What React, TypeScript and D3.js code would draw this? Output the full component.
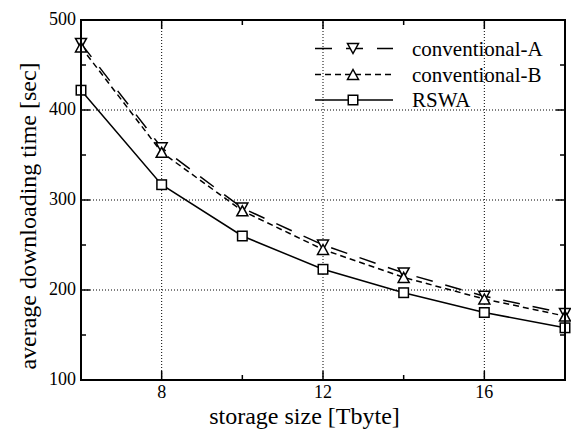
import React from "react";
import * as d3 from "d3";

// storage size [Tbyte]
const storageSizes = [6, 8, 10, 12, 14, 16, 18];
// average downloading time [sec]
const conventionalA = [474, 358, 291, 250, 219, 193, 174];
const conventionalB = [470, 353, 288, 245, 214, 190, 171];
const rswa = [422, 317, 260, 223, 197, 175, 158];

const xMajorTicks = [8, 12, 16];
const xMinorTicks = [10, 14];
const yMajorTicks = [100, 200, 300, 400, 500];
const yMinorTicks = [150, 250, 350, 450];
const yGridTicks = [200, 300, 400];

const width = 571;
const height = 429;
const margin = { left: 81, right: 6, top: 20, bottom: 49 };
const font = "Liberation Serif, DejaVu Serif, serif";

const x = d3.scaleLinear().domain([6, 18]).range([margin.left, width - margin.right]);
const y = d3.scaleLinear().domain([100, 500]).range([height - margin.bottom, margin.top]);

const line = d3
  .line<number>()
  .x((d, i) => x(storageSizes[i]))
  .y(d => y(d));

const triDown = (cx, cy) => `M${cx - 5.5},${cy - 5}L${cx + 5.5},${cy - 5}L${cx},${cy + 5}Z`;
const triUp = (cx, cy) => `M${cx - 5.5},${cy + 5}L${cx + 5.5},${cy + 5}L${cx},${cy - 5}Z`;

const series = [
  { name: "conventional-A", values: conventionalA, dash: "17,13", marker: "down" },
  { name: "conventional-B", values: conventionalB, dash: "6,4", marker: "up" },
  { name: "RSWA", values: rswa, dash: null, marker: "square" }
];

const Marker = ({ kind, cx, cy }) => {
  if (kind === "square")
    return <rect x={cx - 4.75} y={cy - 4.75} width={9.5} height={9.5} fill="white" stroke="black" strokeWidth={1.5} />;
  return <path d={kind === "down" ? triDown(cx, cy) : triUp(cx, cy)} fill="white" stroke="black" strokeWidth={1.5} />;
};

const App = () => {
  const [x0, x1] = x.range();
  const [y0, y1] = y.range();
  const legendRows = [48.5, 74.5, 100];

  return (
    <svg width={width} height={height} style={{ position: "absolute", left: 0, top: 0, background: "white", fontFamily: font }}>
      {/* grid */}
      <g stroke="black" strokeWidth={1} strokeDasharray="1,2">
        {xMajorTicks.map(t => <line key={"gx" + t} x1={x(t)} x2={x(t)} y1={y0} y2={y1} />)}
        {yGridTicks.map(t => <line key={"gy" + t} x1={x0} x2={x1} y1={y(t)} y2={y(t)} />)}
      </g>

      {/* ticks on all four sides */}
      <g stroke="black" strokeWidth={1.5}>
        {xMajorTicks.map(t => (
          <g key={"xt" + t}>
            <line x1={x(t)} x2={x(t)} y1={y0} y2={y0 - 9} />
            <line x1={x(t)} x2={x(t)} y1={y1} y2={y1 + 9} />
          </g>
        ))}
        {xMinorTicks.map(t => (
          <g key={"xm" + t}>
            <line x1={x(t)} x2={x(t)} y1={y0} y2={y0 - 5} />
            <line x1={x(t)} x2={x(t)} y1={y1} y2={y1 + 5} />
          </g>
        ))}
        {yMajorTicks.map(t => (
          <g key={"yt" + t}>
            <line x1={x0} x2={x0 + 9} y1={y(t)} y2={y(t)} />
            <line x1={x1} x2={x1 - 9} y1={y(t)} y2={y(t)} />
          </g>
        ))}
        {yMinorTicks.map(t => (
          <g key={"ym" + t}>
            <line x1={x0} x2={x0 + 5} y1={y(t)} y2={y(t)} />
            <line x1={x1} x2={x1 - 5} y1={y(t)} y2={y(t)} />
          </g>
        ))}
      </g>

      {/* series */}
      {series.map(s => (
        <path key={s.name} d={line(s.values)} fill="none" stroke="black" strokeWidth={1.5} strokeDasharray={s.dash || undefined} />
      ))}
      {series.map(s =>
        s.values.map((v, i) => <Marker key={s.name + i} kind={s.marker} cx={x(storageSizes[i])} cy={y(v)} />)
      )}

      {/* frame */}
      <rect x={x0} y={y1} width={x1 - x0} height={y0 - y1} fill="none" stroke="black" strokeWidth={2} />

      {/* tick labels */}
      <g fontSize={18} fill="black">
        {xMajorTicks.map(t => (
          <text key={"xl" + t} x={x(t)} y={398} textAnchor="middle">{t}</text>
        ))}
        {yMajorTicks.map(t => (
          <text key={"yl" + t} x={76} y={y(t) + 5} textAnchor="end">{t}</text>
        ))}
      </g>

      {/* axis titles */}
      <text x={304.5} y={424} textAnchor="middle" fontSize={24}>storage size [Tbyte]</text>
      <text transform="translate(36,216) rotate(-90)" textAnchor="middle" fontSize={24}>
        average downloading time [sec]
      </text>

      {/* legend */}
      {series.map((s, i) => (
        <g key={"lg" + s.name}>
          <line x1={315} x2={393} y1={legendRows[i]} y2={legendRows[i]} stroke="black" strokeWidth={1.5} strokeDasharray={s.dash === "17,13" ? "17,14" : s.dash || undefined} />
          <Marker kind={s.marker} cx={353} cy={legendRows[i]} />
          <text x={412} y={legendRows[i] + 7} fontSize={21}>{s.name}</text>
        </g>
      ))}
    </svg>
  );
};

export default App;
